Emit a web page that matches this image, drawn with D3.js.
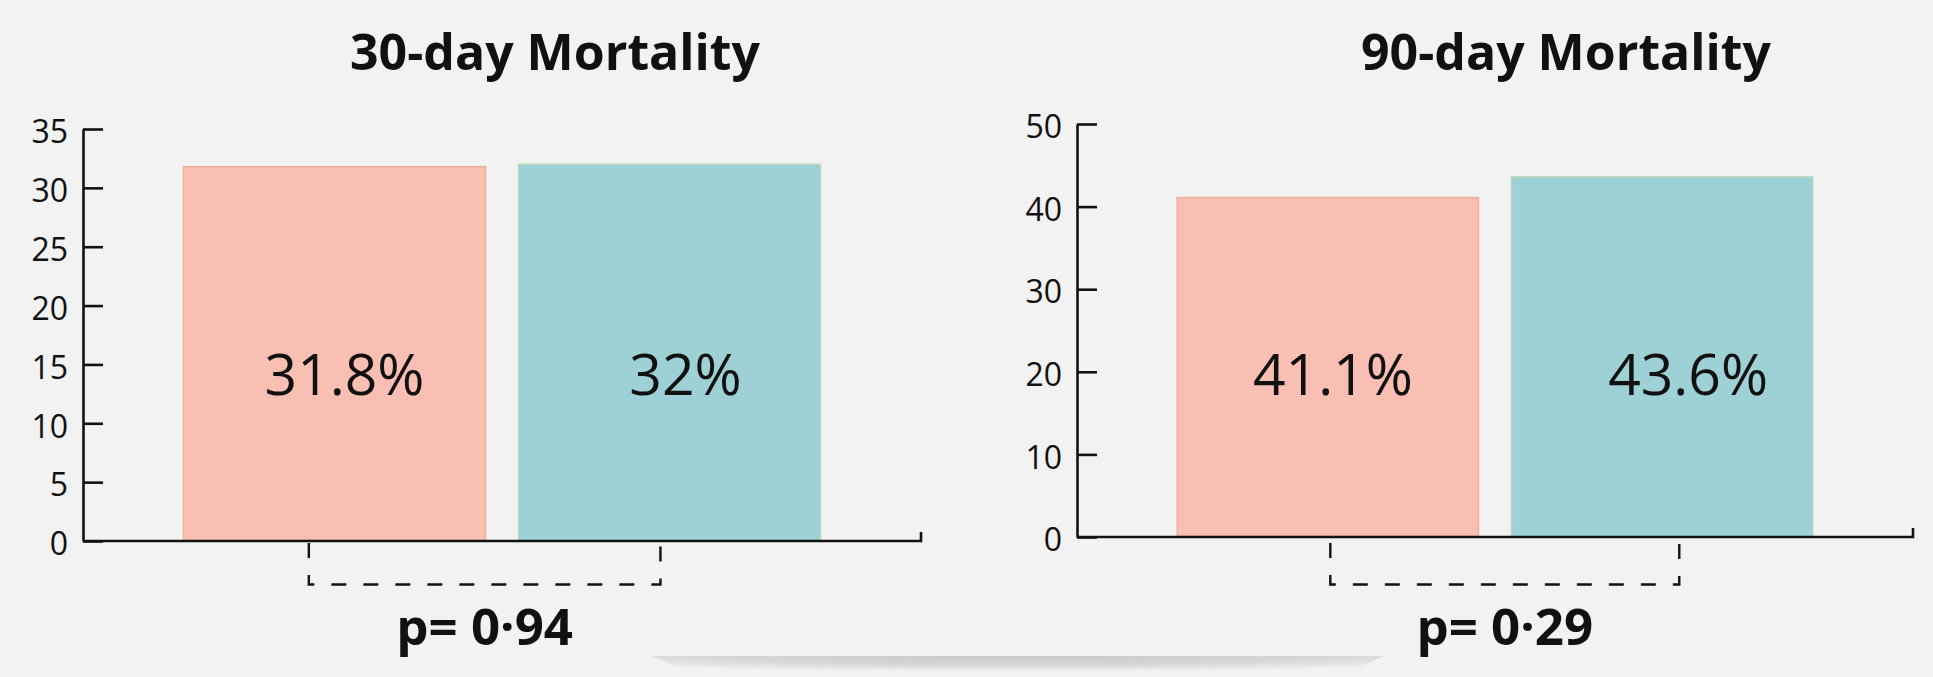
<!DOCTYPE html>
<html>
<head>
<meta charset="utf-8">
<script src="https://cdn.jsdelivr.net/npm/d3@7"></script>
<style>
  html, body { margin: 0; padding: 0; background: #f2f2f2; }
  svg { display: block; font-family: "Open Sans", sans-serif; }
</style>
</head>
<body>
<svg id="chart" width="1933" height="677"></svg>
<script>
// data
const groups = ['Arm A', 'Arm B'];
const titles = ['30-day Mortality', '90-day Mortality'];
const mortality30 = [31.8, 32];
const mortality90 = [41.1, 43.6];
const yTicks30 = [0, 5, 10, 15, 20, 25, 30, 35];
const yTicks90 = [0, 10, 20, 30, 40, 50];
const pLabels = ['p= 0·94', 'p= 0·29'];

const svg = d3.select('#chart');
const colors = d3.scaleOrdinal().domain(groups).range(['#f9bfb3', '#9dd1d5']);
const borders = d3.scaleOrdinal().domain(groups).range(['#f4ae97', '#bcd6bb']);

// bottom shadow of the slide
const defs = svg.append('defs');
const grad = defs.append('radialGradient').attr('id', 'shade')
    .attr('cx', '50%').attr('cy', '0%').attr('r', '75%');
grad.append('stop').attr('offset', '0%').attr('stop-color', '#c9c9c9');
grad.append('stop').attr('offset', '55%').attr('stop-color', '#d6d6d6');
grad.append('stop').attr('offset', '100%').attr('stop-color', '#f2f2f2');
svg.append('path')
    .attr('d', 'M652,656 L1384,656 L1336,677 L700,677 Z')
    .attr('fill', 'url(#shade)');

const panels = [
    { values: mortality30, ticks: yTicks30, left: 83, right: 921, top: 129, base: 541,
      titleX: 555, labelShift: [10, 16], bracket: [0.415, 0.47], bracketTop: 543 },
    { values: mortality90, ticks: yTicks90, left: 1077, right: 1913, top: 124, base: 537,
      titleX: 1566, labelShift: [5, 26], bracket: [0.508, 0.557], bracketTop: 543 }
];

panels.forEach((p, i) => {
    const g = svg.append('g');

    const x = d3.scaleBand()
        .domain(groups)
        .range([p.left, p.right])
        .paddingInner(0.0985)
        .paddingOuter(0.3);

    const y = d3.scaleLinear()
        .domain([0, d3.max(p.ticks)])
        .range([p.base, p.top]);

    // bars
    g.selectAll('rect')
        .data(p.values)
        .enter()
        .append('rect')
        .attr('x', (d, j) => x(groups[j]))
        .attr('y', d => y(d))
        .attr('width', x.bandwidth())
        .attr('height', d => y(0) - y(d))
        .attr('fill', (d, j) => colors(groups[j]))
        .attr('stroke', (d, j) => borders(groups[j]))
        .attr('stroke-width', 1.5);

    // value labels inside bars
    g.selectAll('.val')
        .data(p.values)
        .enter()
        .append('text')
        .attr('class', 'val')
        .attr('x', (d, j) => x(groups[j]) + x.bandwidth() / 2 + p.labelShift[j])
        .attr('y', 395)
        .attr('text-anchor', 'middle')
        .attr('font-size', 57)
        .attr('fill', '#111')
        .text(d => d + '%');

    // y axis, ticks pointing inwards
    const yAxis = d3.axisLeft(y)
        .tickValues(p.ticks)
        .tickFormat(d3.format('d'))
        .tickSizeInner(-20)
        .tickSizeOuter(0)
        .tickPadding(15);

    const ya = g.append('g')
        .attr('transform', `translate(${p.left},0)`)
        .call(yAxis);
    ya.selectAll('path, line').attr('stroke', '#111').attr('stroke-width', 2.6);
    ya.selectAll('text')
        .attr('font-size', 32)
        .attr('font-family', '"Open Sans", sans-serif')
        .attr('fill', '#111')
        .attr('dy', '0.43em');

    // x axis baseline with the small end tick
    g.append('path')
        .attr('d', `M${p.left},${y(0)}H${p.right}V${y(0) - 9}`)
        .attr('fill', 'none')
        .attr('stroke', '#111')
        .attr('stroke-width', 2.6);

    // title
    g.append('text')
        .attr('x', p.titleX)
        .attr('y', 70)
        .attr('text-anchor', 'middle')
        .attr('font-size', 50)
        .attr('font-weight', 700)
        .attr('fill', '#111')
        .text(titles[i]);

    // dashed comparison bracket
    const bx0 = x(groups[0]) + x.bandwidth() * p.bracket[0];
    const bx1 = x(groups[1]) + x.bandwidth() * p.bracket[1];
    const by = 584.5;
    g.append('path')
        .attr('d', `M${bx0},${p.bracketTop}V${by}H${bx1}V${p.bracketTop}`)
        .attr('fill', 'none')
        .attr('stroke', '#111')
        .attr('stroke-width', 2.4)
        .attr('stroke-dasharray', '15,17');

    // p value
    g.append('text')
        .attr('x', (bx0 + bx1) / 2)
        .attr('y', 645)
        .attr('text-anchor', 'middle')
        .attr('font-size', 51)
        .attr('font-weight', 700)
        .attr('fill', '#111')
        .text(pLabels[i]);
});
</script>
</body>
</html>
